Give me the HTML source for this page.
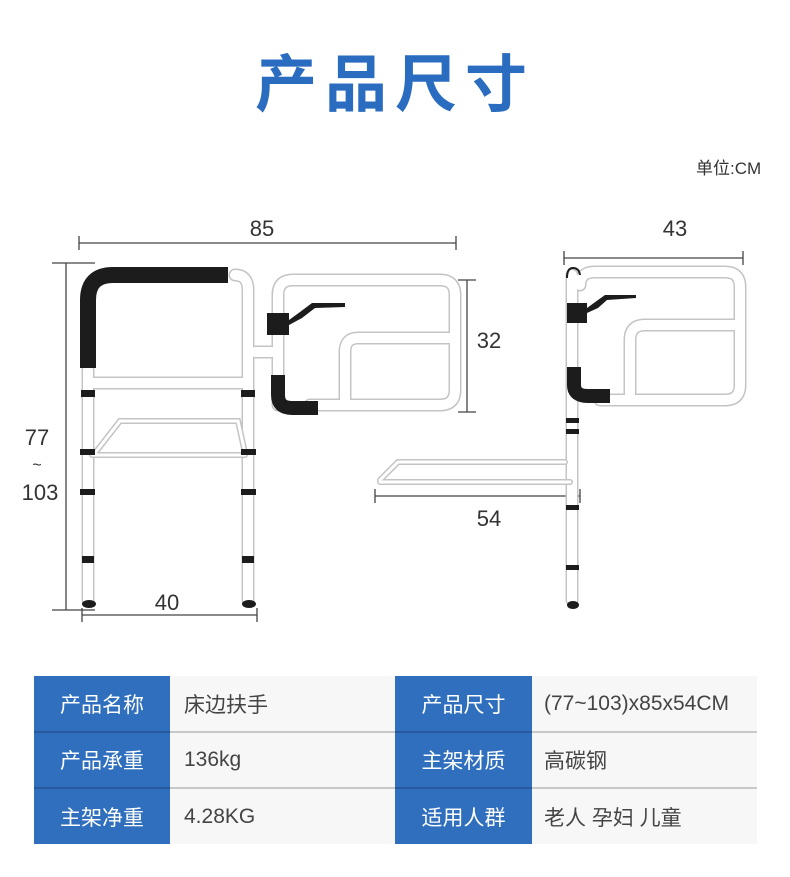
<!DOCTYPE html>
<html><head><meta charset="utf-8"><style>
body{margin:0;width:790px;height:877px;background:#fff;overflow:hidden;font-family:"Liberation Sans","Noto Sans CJK SC",sans-serif;position:relative}
.t{position:absolute;left:0;width:790px;top:46px;text-align:center;font-size:62px;font-weight:bold;color:#2a6cc0;letter-spacing:8px;line-height:80px}
.u{position:absolute;left:696px;top:154px;font-size:17px;color:#333}
table{position:absolute;left:34px;top:676px;border-collapse:collapse;table-layout:fixed;width:723px}
td{height:56px;font-size:21px;padding:0;border-bottom:2px solid #c8c8c8;box-sizing:border-box;white-space:nowrap;overflow:hidden}
td.b{background:#2f6fbd;color:#fff;text-align:center;border-bottom:2px solid #265a9c}
td.g{background:#f7f7f7;color:#444;padding-left:14px}
tr:last-child td{border-bottom:none}
</style></head><body>
<div class="t">产品尺寸</div>
<div class="u">单位:CM</div>
<svg width="790" height="877" style="position:absolute;left:0;top:0" font-family="Liberation Sans, Noto Sans CJK SC, sans-serif">
<g stroke="#444" stroke-width="1.3" fill="none">
<path d="M79,243H456M79,236V250M456,236V250"/>
<path d="M66,263V610M52,263H95M52,610H95"/>
<path d="M82,615H257M82,608V622M257,608V622"/>
<path d="M467,280V412M458,280H476M458,412H476"/>
<path d="M564,258H743M564,251V265M743,251V265"/>
<path d="M375,496H580M375,489V503M580,489V503"/>
</g>
<g font-size="22" fill="#333" text-anchor="middle">
<text x="262" y="236">85</text>
<text x="37" y="445">77</text>
<text x="37" y="470" font-size="16">~</text>
<text x="40" y="500">103</text>
<text x="167" y="610">40</text>
<text x="489" y="348">32</text>
<text x="675" y="236">43</text>
<text x="489" y="526">54</text>
</g>
<g fill="none" stroke-linecap="round">
<g stroke="#c4c4c4" stroke-width="13">
<path d="M88,370V600M248,290Q248,275 235,275M248,290V600M92,383H245M255,352H272"/>
<path d="M278,405V295Q278,280 293,280H440Q455,280 455,295V390Q455,405 440,405H310"/>
<path d="M345,405V352Q345,338 358,338H452"/>
<path d="M572,275V600M580,285Q580,272 595,272H725Q740,272 740,287V385Q740,400 725,400H600M630,400V340Q630,325 645,325H738"/>
</g>
<g stroke="#fff" stroke-width="10">
<path d="M88,370V600M248,290Q248,275 235,275M248,290V600M92,383H245M255,352H272"/>
<path d="M278,405V295Q278,280 293,280H440Q455,280 455,295V390Q455,405 440,405H310"/>
<path d="M345,405V352Q345,338 358,338H452"/>
<path d="M572,275V600M580,285Q580,272 595,272H725Q740,272 740,287V385Q740,400 725,400H600M630,400V340Q630,325 645,325H738"/>
</g>
<g stroke="#c4c4c4" stroke-width="6"><path d="M95,453L120,421H238L245,453M92,455H245M380,480L398,462H565M380,482H570"/></g>
<g stroke="#fff" stroke-width="3"><path d="M95,453L120,421H238L245,453M92,455H245M380,480L398,462H565M380,482H570"/></g>
<path d="M88,368V300Q88,275 113,275H228" stroke="#1c1c1c" stroke-width="16" stroke-linecap="butt"/>
<path d="M278,375V395Q278,408 292,408H318" stroke="#1c1c1c" stroke-width="14" stroke-linecap="butt"/>
<path d="M574,367V385Q574,396 588,396H610" stroke="#1c1c1c" stroke-width="14" stroke-linecap="butt"/>
</g>
<g fill="#1c1c1c">
<rect x="81" y="390" width="14" height="7"/><rect x="241" y="390" width="14" height="7"/>
<rect x="80" y="449" width="15" height="6"/><rect x="241" y="449" width="15" height="6"/>
<rect x="80" y="489" width="15" height="6"/><rect x="241" y="489" width="15" height="6"/>
<rect x="82" y="556" width="12" height="7"/><rect x="242" y="556" width="12" height="7"/>
<ellipse cx="89" cy="604" rx="7" ry="4"/><ellipse cx="249" cy="604" rx="7" ry="4"/>
<rect x="267" y="313" width="22" height="22"/><path d="M289,320L300,312L312,303H345V307L315,308L302,318L289,325Z"/>
<rect x="567" y="303" width="20" height="20"/><path d="M587,308L598,300L605,295H636V298L607,300L598,308L587,313Z"/>
<rect x="566" y="418" width="13" height="5"/><rect x="566" y="429" width="13" height="5"/>
<rect x="566" y="505" width="13" height="5"/><rect x="566" y="565" width="13" height="5"/>
<ellipse cx="573" cy="605" rx="6" ry="4"/>
<path d="M567,278Q567,268 573,268Q579,268 580,275" fill="none" stroke="#1c1c1c" stroke-width="2"/>
</g>
</svg>
<table>
<colgroup><col style="width:136px"><col style="width:225px"><col style="width:137px"><col style="width:225px"></colgroup>
<tr><td class="b">产品名称</td><td class="g">床边扶手</td><td class="b">产品尺寸</td><td class="g" style="padding-left:12px">(77~103)x85x54CM</td></tr>
<tr><td class="b">产品承重</td><td class="g">136kg</td><td class="b">主架材质</td><td class="g" style="padding-left:12px">高碳钢</td></tr>
<tr><td class="b">主架净重</td><td class="g">4.28KG</td><td class="b">适用人群</td><td class="g" style="padding-left:12px">老人 孕妇 儿童</td></tr>
</table>
</body></html>
